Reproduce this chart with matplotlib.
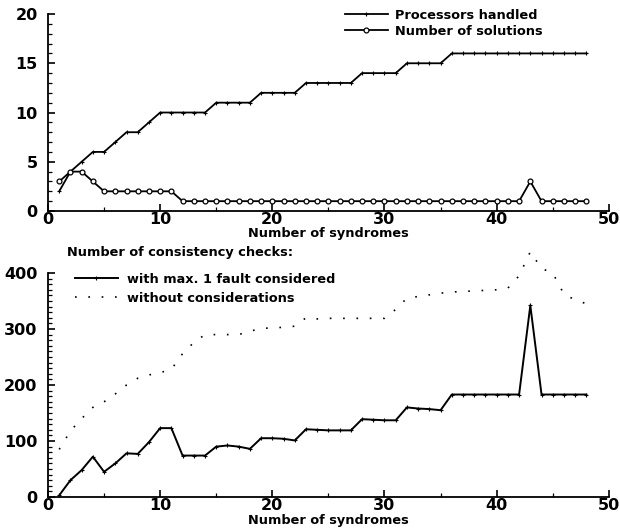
import matplotlib
matplotlib.use("Agg")
import matplotlib.pyplot as plt
from matplotlib.lines import Line2D
from matplotlib.ticker import MultipleLocator

syndromes = list(range(1, 49))
processors_handled = [2, 4, 5, 6, 6, 7, 8, 8, 9, 10,
                      10, 10, 10, 10, 11, 11, 11, 11, 12, 12,
                      12, 12, 13, 13, 13, 13, 13, 14, 14, 14,
                      14, 15, 15, 15, 15, 16, 16, 16, 16, 16,
                      16, 16, 16, 16, 16, 16, 16, 16]
number_of_solutions = [3, 4, 4, 3, 2, 2, 2, 2, 2, 2,
                       2, 1, 1, 1, 1, 1, 1, 1, 1, 1,
                       1, 1, 1, 1, 1, 1, 1, 1, 1, 1,
                       1, 1, 1, 1, 1, 1, 1, 1, 1, 1,
                       1, 1, 3, 1, 1, 1, 1, 1]
checks_max1 = [3, 30, 48, 72, 45, 60, 78, 77, 98, 123,
               123, 74, 74, 74, 90, 92, 90, 86, 105, 105,
               104, 101, 121, 120, 119, 119, 119, 139, 138, 137,
               137, 160, 158, 157, 155, 183, 183, 183, 183, 183,
               183, 183, 342, 183, 183, 183, 183, 183]
checks_without = [85, 118, 140, 160, 170, 184, 200, 212, 218, 222,
                  228, 256, 276, 290, 290, 290, 290, 296, 301, 302,
                  303, 305, 320, 318, 319, 319, 319, 319, 319, 319,
                  335, 355, 358, 361, 364, 366, 367, 368, 369, 370,
                  373, 395, 438, 408, 400, 362, 352, 345]

plt.rcParams['font.family'] = ["DejaVu Sans"]
plt.rcParams['font.weight'] = 'bold'

W, H = 620, 531
fig = plt.figure(figsize=(6.2, 5.31), dpi=100)
ax1 = fig.add_axes([0.0774, 0.6026, 0.9046, 0.371])
ax2 = fig.add_axes([0.0774, 0.064, 0.9046, 0.4219])

TXT = 9.3

def style(ax, ymax, ymajor, yminor, xlpad):
    ax.set_xlim(0, 50)
    ax.set_ylim(0, ymax)
    ax.spines['top'].set_visible(False)
    ax.spines['right'].set_visible(False)
    ax.spines['left'].set_linewidth(1.3)
    ax.spines['bottom'].set_linewidth(1.3)
    ax.xaxis.set_major_locator(MultipleLocator(10))
    ax.xaxis.set_minor_locator(MultipleLocator(5))
    ax.yaxis.set_major_locator(MultipleLocator(ymajor))
    ax.yaxis.set_minor_locator(MultipleLocator(yminor))
    ax.tick_params(which='major', direction='in', length=5, width=1.2,
                   labelsize=11.5)
    ax.tick_params(which='minor', direction='in', length=3, width=0.9)
    ax.tick_params(axis='x', which='major', pad=1)
    ax.tick_params(axis='y', which='major', pad=7.5)
    for lab in ax.get_xticklabels() + ax.get_yticklabels():
        lab.set_fontweight('bold')
    ax.set_xlabel("Number of syndromes", fontsize=TXT, fontweight='bold',
                  labelpad=xlpad)

style(ax1, 20, 5, 1, -0.3)
style(ax2, 400, 100, 10, 0.3)

ax1.plot(syndromes, processors_handled, color='black', lw=1.3,
         marker='+', markersize=3, markeredgewidth=0.8,
         label="Processors handled")
ax1.plot(syndromes, number_of_solutions, color='black', lw=1.3,
         marker='o', markersize=3.5, markerfacecolor='white',
         markeredgewidth=0.9, label="Number of solutions")
ax1.legend(loc='upper left', bbox_to_anchor=(345 / W, 1 - 9 / H),
           bbox_transform=fig.transFigure, frameon=False,
           handlelength=3.3, handletextpad=0.55, labelspacing=0.22,
           borderaxespad=0, borderpad=0,
           prop={'weight': 'bold', 'size': TXT})

ax2.plot(syndromes, checks_max1, color='black', lw=1.4,
         marker='+', markersize=3, markeredgewidth=0.8,
         label="with max. 1 fault considered")
ax2.plot(syndromes, checks_without, color='black', lw=1.2,
         linestyle=(0, (1, 7)), clip_on=False,
         label="without considerations")
fig.text(67 / W, 1 - 252 / H, "Number of consistency checks:",
         fontsize=TXT, fontweight='bold', va='center', ha='left')
h_max1 = Line2D([], [], color='black', lw=1.4, marker='+', markersize=3,
                markeredgewidth=0.8)
h_without = Line2D([], [], color='black', lw=1.2, linestyle=(0, (1, 7)))
ax2.legend([h_max1, h_without],
           ["with max. 1 fault considered", "without considerations"],
           loc='upper left', bbox_to_anchor=(75 / W, 1 - 273 / H),
           bbox_transform=fig.transFigure, frameon=False,
           handlelength=3.3, handletextpad=0.75, labelspacing=0.45,
           borderaxespad=0, borderpad=0,
           prop={'weight': 'bold', 'size': TXT})

fig.savefig("out.png", dpi=100)
